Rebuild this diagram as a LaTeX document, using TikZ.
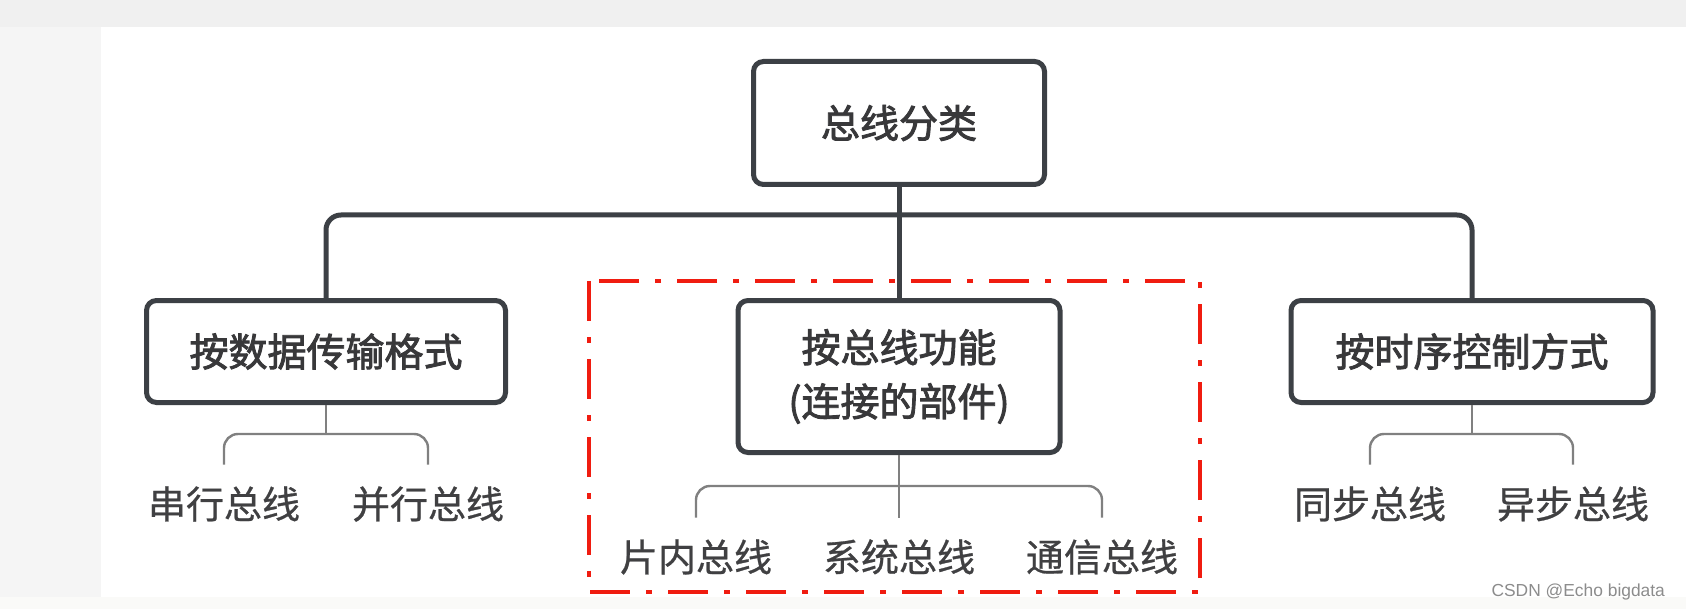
\documentclass[tikz,border=0pt]{standalone}
\usepackage{fontspec}
\newfontfamily\cjkbox[FakeBold=2.2]{Noto Sans CJK SC}
\newfontfamily\cjkleaf[FakeBold=0.7]{Noto Sans CJK SC}
\newfontfamily\wmfont{Liberation Sans}
\usepackage{tikz}
\usetikzlibrary{positioning}

\definecolor{boxgray}{RGB}{60,64,69}
\definecolor{txtgray}{RGB}{56,56,58}
\definecolor{leafgray}{RGB}{64,64,66}
\definecolor{brkgray}{RGB}{128,128,128}
\definecolor{redmark}{RGB}{240,28,16}
\definecolor{pagegray}{RGB}{240,240,240}
\definecolor{sidegray}{RGB}{245,245,245}
\definecolor{footgray}{RGB}{250,250,248}
\definecolor{markgray}{RGB}{140,140,140}

\tikzset{
  catbox/.style={draw=boxgray,line width=2.5pt,rounded corners=5pt,fill=white,
    text=txtgray,font=\cjkbox\fontsize{19.5pt}{27pt}\selectfont,align=center},
  leaf/.style={text=leafgray,font=\cjkleaf\fontsize{19pt}{23pt}\selectfont,
    inner xsep=0pt,inner ysep=10pt,text height=16.7pt,text depth=2.3pt},
  link/.style={draw=boxgray,line width=2.5pt,rounded corners=7.5pt},
  brk/.style={draw=brkgray,line width=1.2pt,rounded corners=7pt},
}

\begin{document}
\begin{tikzpicture}[x=0.5pt,y=-0.5pt]
%% page
\fill[pagegray](0,0)rectangle(1686,609);
\fill[sidegray](0,27)rectangle(101,597);
\fill[white](101,27)rectangle(1686,597);
\fill[footgray](0,597)rectangle(1686,609);
\useasboundingbox(0,0)rectangle(1686,609);

%% boxes
\node[catbox,minimum width=145.5pt,minimum height=61.5pt](root)at(899,123){总线分类};
\node[catbox,minimum width=179.5pt,minimum height=51pt](fmt)at(326,351.5){按数据传输格式};
\node[catbox,minimum width=161pt,minimum height=76pt](fun)at(899,376.5){按总线功能\\(连接的部件)};
\node[catbox,minimum width=181pt,minimum height=51pt](tim)at(1472,351.5){按时序控制方式};

%% leaves
\node[leaf](ser)at(224,504){串行总线};
\node[leaf](par)at(428,504){并行总线};
\node[leaf](chip)at(696,557){片内总线};
\node[leaf](sys)at(899,557){系统总线};
\node[leaf](com)at(1102,557){通信总线};
\node[leaf](syn)at(1370,504){同步总线};
\node[leaf](asy)at(1573,504){异步总线};

\coordinate(root-j)at(899,215);
\coordinate(fmt-j)at(326,434);
\coordinate(fun-j)at(899,486);
\coordinate(tim-j)at(1472,434);

%% main tree
\draw[link](fmt.north)|-(root-j)-|(tim.north);
\draw[link](root.south)--(root-j)--(fun.north);

%% brackets
\draw[brk](fmt.south)--(fmt-j);
\draw[brk](ser.north)|-(fmt-j)-|(par.north);
\draw[brk](fun.south)--(sys.north);
\draw[brk](chip.north)|-(fun-j)-|(com.north);
\draw[brk](tim.south)--(tim-j);
\draw[brk](syn.north)|-(tim-j)-|(asy.north);

%% mark
\draw[redmark,line width=2pt,dash pattern=on 20pt off 8pt on 3pt off 8pt](589,281)rectangle(1200,592);
\node[anchor=base east,text=markgray,font=\wmfont\fontsize{8.7pt}{11pt}\selectfont](wm)at(1672,596){CSDN @Echo bigdata};
\end{tikzpicture}
\end{document}
